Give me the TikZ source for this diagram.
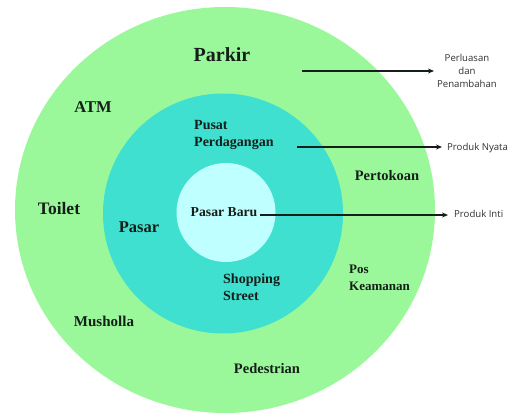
\documentclass[tikz,border=0pt]{standalone}
\usepackage{fontspec}
\setmainfont{Liberation Serif}
\newfontfamily\labelsans{Open Sans}
\usetikzlibrary{arrows.meta}
\definecolor{ringouter}{RGB}{154,248,154}
\definecolor{ringmid}{RGB}{64,224,208}
\definecolor{ringinner}{RGB}{192,255,255}
\definecolor{inkdark}{RGB}{22,30,26}
\definecolor{inkside}{RGB}{45,50,48}
\tikzset{
  zone/.style={font=\bfseries\fontsize{#1}{#1}\selectfont, text=inkdark, inner sep=0pt},
  zonel/.style={font=\bfseries\fontsize{#1}{17}\selectfont, text=inkdark, inner sep=0pt, align=left, anchor=west},
  side/.style={font=\labelsans\fontsize{9.6}{13}\selectfont, text=inkside, inner sep=0pt},
  pointer/.style={draw=inkdark, line width=1.4pt, -{Stealth[length=6pt,width=5pt]}}
}
\begin{document}
\begin{tikzpicture}[x=1pt,y=-1pt]
  \useasboundingbox (0,0) rectangle (513,419);
  % three concentric rings
  \fill[ringouter] (225,210) ellipse [x radius=210pt, y radius=203pt];
  \fill[ringmid] (223,213.5) circle [radius=120pt];
  \fill[ringinner] (226,212.5) circle [radius=49.5pt];

  % outer ring labels
  \node[zone=20] (parkir) at (222,55) {Parkir};
  \node[zone=16.5] (atm) at (93,107) {ATM};
  \node[zone=17.5] (toilet) at (59,209) {Toilet};
  \node[zone=14.5] (pertokoan) at (387,176) {Pertokoan};
  \node[zonel=13] (pos) at (349,278) {Pos\\Keamanan};
  \node[zone=15] (musholla) at (104,321) {Musholla};
  \node[zone=14.5] (pedestrian) at (267,369) {Pedestrian};

  % middle ring labels
  \node[zonel=14] (pusat) at (194,135) {Pusat\\Perdagangan};
  \node[zone=16.5] (pasar) at (139,227) {Pasar};
  \node[zonel=14] (shopping) at (223,287) {Shopping\\Street};

  % core label
  \node[zone=13.7] (baru) at (224,212) {Pasar Baru};

  % side labels
  \node[side, align=center] (perluasan) at (467,71) {Perluasan\\dan\\Penambahan};
  \node[side, anchor=west] (nyata) at (447,148) {Produk Nyata};
  \node[side, anchor=west] (inti) at (454,214) {Produk Inti};

  % pointers
  \coordinate (p1) at (302,71);
  \coordinate (p2) at (297,147);
  \coordinate (p3) at (260,215);
  \draw[pointer] (p1) -- ([xshift=-3pt]perluasan.west |- p1);
  \draw[pointer] (p2) -- ([xshift=-5pt]nyata.west |- p2);
  \draw[pointer] (p3) -- ([xshift=-6pt]inti.west |- p3);
\end{tikzpicture}
\end{document}
